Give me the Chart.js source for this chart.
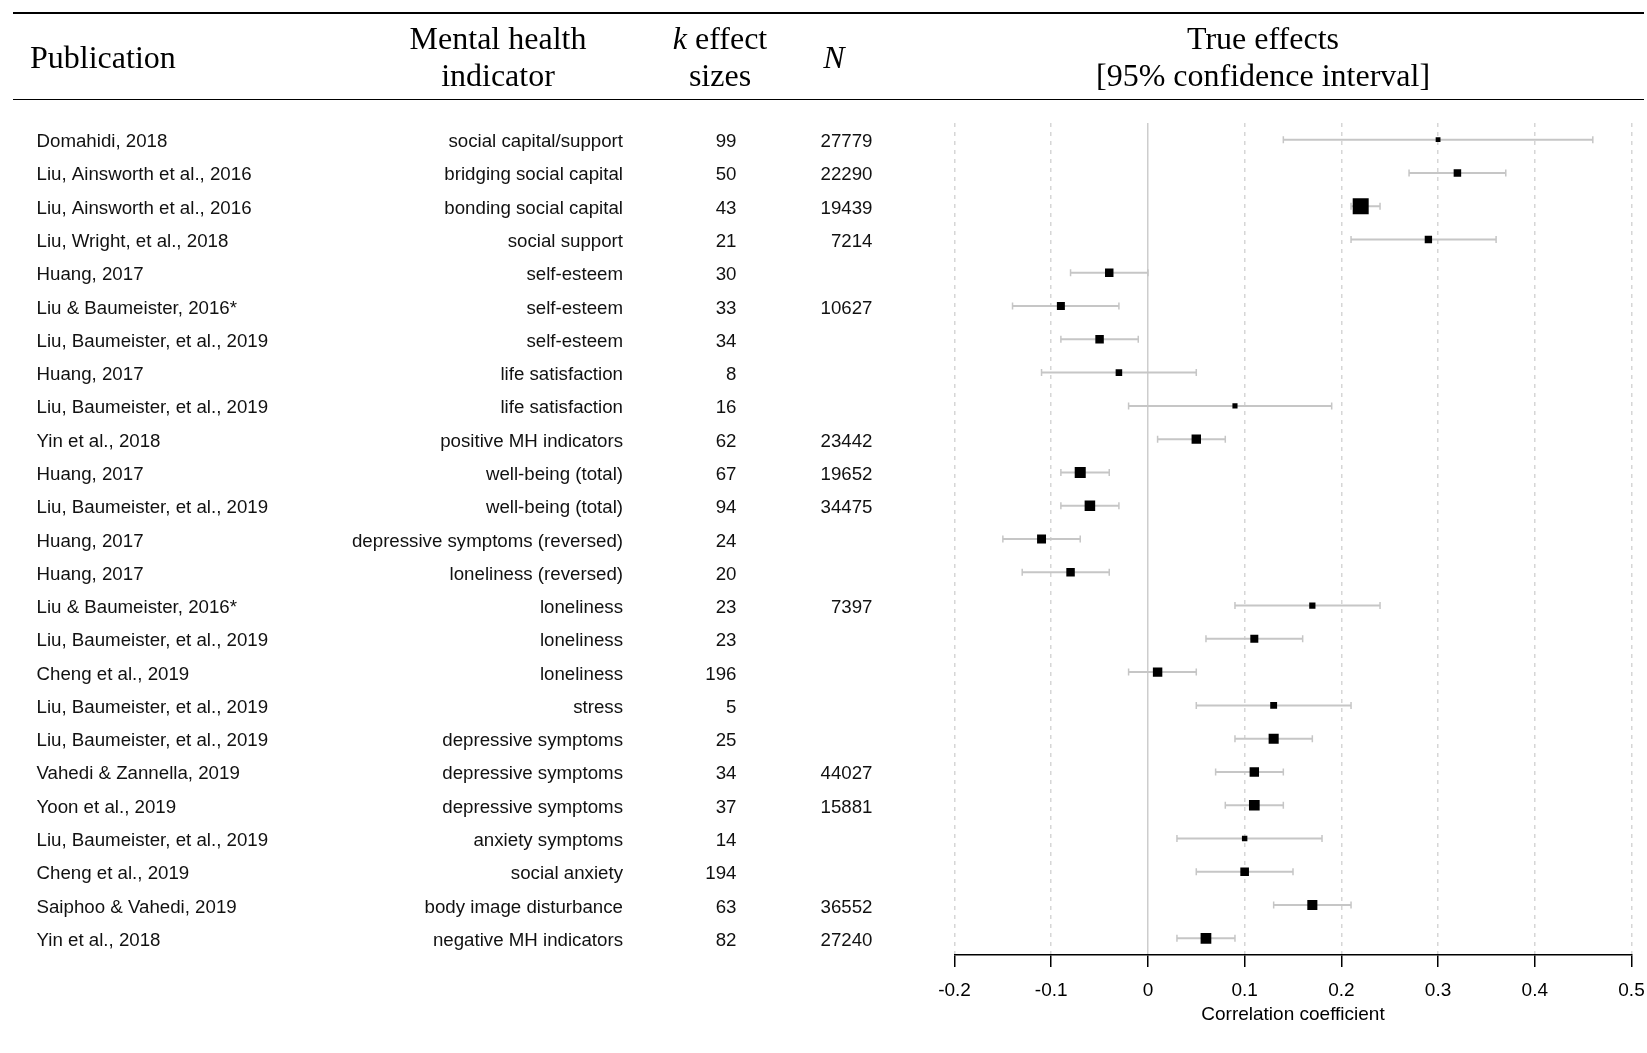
<!doctype html>
<html>
<head>
  <meta charset="utf-8" />
  <title>Forest plot - true effects</title>
  <script src="https://cdn.jsdelivr.net/npm/chart.js"></script>
  <style>
    body { margin: 0; background: #fff; }
    #wrap { position: relative; width: 1647px; height: 1053px; }
    #wrap canvas { position: absolute; left: 0; top: 0; }
    .rule { position: absolute; left: 13px; width: 1631px; background: #000; }
    .hd { position: absolute; font-family: "Liberation Serif", "Times New Roman", serif; font-size: 32px;
          line-height: 37px; color: #000; white-space: nowrap; }
    .c { text-align: center; transform: translateX(-50%); }
  </style>
</head>
<body>
  <div id="wrap">
    <canvas id="forest"></canvas>
    <div class="rule" style="top:12px;height:2px"></div>
    <div class="rule" style="top:98.5px;height:1.5px"></div>
    <div class="hd" style="left:30px;top:39px">Publication</div>
    <div class="hd c" style="left:498px;top:20px">Mental health<br>indicator</div>
    <div class="hd c" style="left:720px;top:20px"><i>k</i> effect<br>sizes</div>
    <div class="hd c" style="left:834px;top:39px"><i>N</i></div>
    <div class="hd c" style="left:1263px;top:20px">True effects<br>[95% confidence interval]</div>
  </div>

  <script>
    const publications = [
      "Domahidi, 2018", "Liu, Ainsworth et al., 2016", "Liu, Ainsworth et al., 2016",
      "Liu, Wright, et al., 2018", "Huang, 2017", "Liu & Baumeister, 2016*",
      "Liu, Baumeister, et al., 2019", "Huang, 2017", "Liu, Baumeister, et al., 2019",
      "Yin et al., 2018", "Huang, 2017", "Liu, Baumeister, et al., 2019", "Huang, 2017",
      "Huang, 2017", "Liu & Baumeister, 2016*", "Liu, Baumeister, et al., 2019",
      "Cheng et al., 2019", "Liu, Baumeister, et al., 2019", "Liu, Baumeister, et al., 2019",
      "Vahedi & Zannella, 2019", "Yoon et al., 2019", "Liu, Baumeister, et al., 2019",
      "Cheng et al., 2019", "Saiphoo & Vahedi, 2019", "Yin et al., 2018"
    ];
    const indicators = [
      "social capital/support", "bridging social capital", "bonding social capital",
      "social support", "self-esteem", "self-esteem", "self-esteem", "life satisfaction",
      "life satisfaction", "positive MH indicators", "well-being (total)", "well-being (total)",
      "depressive symptoms (reversed)", "loneliness (reversed)", "loneliness", "loneliness",
      "loneliness", "stress", "depressive symptoms", "depressive symptoms",
      "depressive symptoms", "anxiety symptoms", "social anxiety", "body image disturbance",
      "negative MH indicators"
    ];
    const kSizes = [99, 50, 43, 21, 30, 33, 34, 8, 16, 62, 67, 94, 24, 20, 23, 23, 196, 5, 25, 34, 37, 14, 194, 63, 82];
    const sampleN = [27779, 22290, 19439, 7214, null, 10627, null, null, null, 23442, 19652, 34475,
                     null, null, 7397, null, null, null, null, 44027, 15881, null, null, 36552, 27240];

    const estimates = [0.30, 0.32, 0.22, 0.29, -0.04, -0.09, -0.05, -0.03, 0.09, 0.05, -0.07, -0.06,
                       -0.11, -0.08, 0.17, 0.11, 0.01, 0.13, 0.13, 0.11, 0.11, 0.10, 0.10, 0.17, 0.06];
    const ciLower = [0.14, 0.27, 0.21, 0.21, -0.08, -0.14, -0.09, -0.11, -0.02, 0.01, -0.09, -0.09,
                     -0.15, -0.13, 0.09, 0.06, -0.02, 0.05, 0.09, 0.07, 0.08, 0.03, 0.05, 0.13, 0.03];
    const ciUpper = [0.46, 0.37, 0.24, 0.36, 0.00, -0.03, -0.01, 0.05, 0.19, 0.08, -0.04, -0.03,
                     -0.07, -0.04, 0.24, 0.16, 0.05, 0.21, 0.17, 0.14, 0.14, 0.18, 0.15, 0.21, 0.09];
    // relative study weight (largest = 100), drives the square size
    const weights = [30, 47, 100, 46, 53, 50, 53, 41, 32, 59, 69, 66, 56, 53, 39, 50, 59, 43, 63, 59, 67, 34, 54, 63, 67];

    const xTicks = [-0.2, -0.1, 0, 0.1, 0.2, 0.3, 0.4, 0.5];

    const rows = publications.map((_, i) => i + 1);
    const isZero = v => Math.abs(v) < 1e-9;

    Chart.defaults.font.family = '"Liberation Sans", Arial, sans-serif';
    Chart.defaults.color = '#000';

    // CI whiskers, one small line per row
    const ciSets = rows.map((row, i) => ({
      type: 'scatter',
      data: [{ x: ciLower[i], y: row }, { x: ciUpper[i], y: row }],
      showLine: true,
      borderColor: '#c6c6c6',
      borderWidth: 2,
      pointStyle: 'line',
      pointRotation: 90,
      pointRadius: 3.5,
      pointBorderColor: '#c6c6c6',
      pointBorderWidth: 1.5,
      order: 2
    }));

    const markerSet = {
      type: 'scatter',
      data: rows.map((row, i) => ({ x: estimates[i], y: row })),
      pointStyle: 'rect',
      pointRadius: weights.map(w => w * 0.113),
      pointBackgroundColor: '#000',
      pointBorderWidth: 0,
      order: 0
    };

    const tableText = {
      id: 'tableText',
      afterDraw(chart) {
        const { ctx } = chart;
        const y = chart.scales.y;
        ctx.save();
        ctx.fillStyle = '#111';
        ctx.font = '18.7px "Liberation Sans", Arial, sans-serif';
        ctx.textBaseline = 'alphabetic';
        publications.forEach((pub, i) => {
          const base = y.getPixelForValue(rows[i]) + 7.5;
          ctx.textAlign = 'left';
          ctx.fillText(pub, 36.5, base);
          ctx.textAlign = 'right';
          ctx.fillText(indicators[i], 623, base);
          ctx.fillText(String(kSizes[i]), 736.5, base);
          if (sampleN[i] != null) ctx.fillText(String(sampleN[i]), 872.5, base);
        });
        ctx.restore();
      }
    };

    new Chart(document.getElementById('forest'), {
      type: 'scatter',
      data: { datasets: [markerSet, ...ciSets] },
      plugins: [tableText],
      options: {
        responsive: true,
        maintainAspectRatio: false,
        animation: false,
        layout: { padding: { left: 954.5, right: 15.5, top: 123, bottom: 0 } },
        plugins: { legend: { display: false }, tooltip: { enabled: false } },
        scales: {
          x: {
            type: 'linear',
            min: -0.2,
            max: 0.5,
            afterBuildTicks: s => { s.ticks = xTicks.map(v => ({ value: v })); },
            afterFit: s => { s.height = 98; s.paddingLeft = 0; s.paddingRight = 0; },
            ticks: {
              color: '#000',
              padding: 12,
              font: { size: 19 },
              callback: v => String(Math.round(v * 10) / 10)
            },
            grid: {
              color: c => (c.tick && isZero(c.tick.value)) ? '#cdcdcd' : '#d6d6d6',
              lineWidth: 1.5,
              tickLength: 12,
              tickColor: '#000',
              tickWidth: 1.5,
              tickBorderDash: []
            },
            border: {
              color: '#000',
              width: 1.5,
              dash: c => (c.type === 'tick' && !isZero(c.tick.value)) ? [4, 5] : []
            },
            title: {
              display: true,
              text: 'Correlation coefficient',
              color: '#000',
              font: { size: 19 },
              padding: { top: 0, bottom: 27 }
            }
          },
          y: {
            type: 'linear',
            min: 0.5,
            max: 25.5,
            reverse: true,
            display: false
          }
        }
      }
    });
  </script>
</body>
</html>
